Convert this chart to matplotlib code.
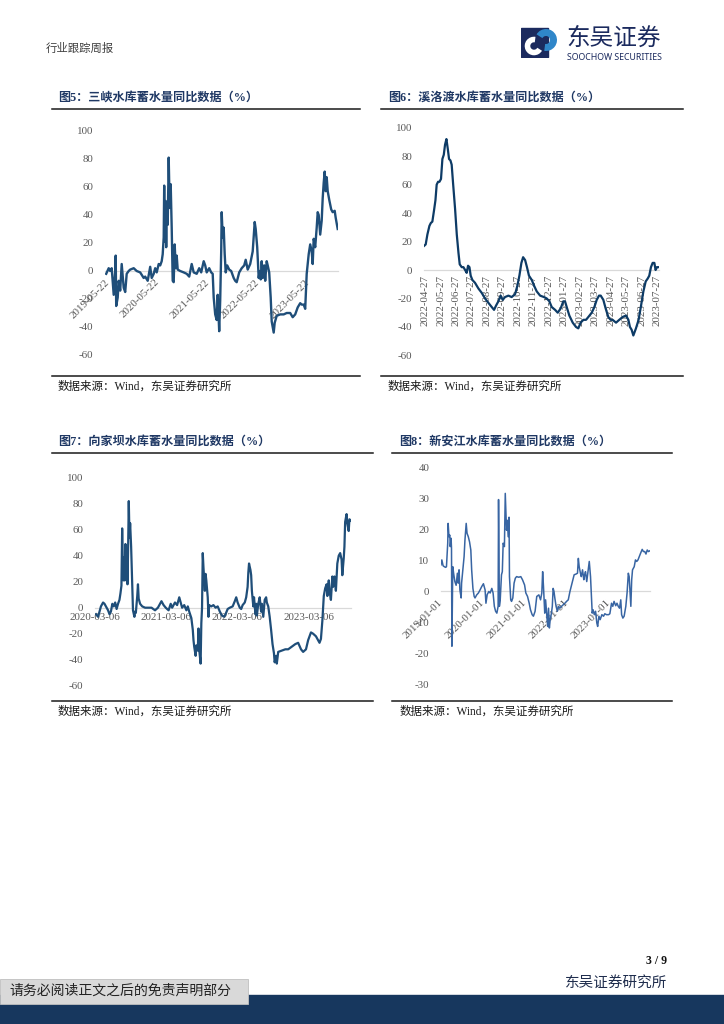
import matplotlib
matplotlib.use('Agg')
import matplotlib.pyplot as plt
import pandas as pd
from matplotlib.lines import Line2D
from matplotlib.patches import Rectangle, Arc

# 页面尺寸 (像素)
W, H = 724, 1024
plt.rcParams['font.family'] = ['Liberation Serif', 'Noto Sans CJK SC', 'DejaVu Sans']
plt.rcParams['axes.unicode_minus'] = False

# ---------------- 数据 ----------------
# 图5 三峡 (年份小数, %)
t5 = [2019.35, 2019.40, 2019.43, 2019.46, 2019.50, 2019.53, 2019.54, 2019.55, 2019.58, 2019.60,
      2019.63, 2019.66, 2019.70, 2019.73, 2019.76, 2019.80, 2019.83, 2019.90, 2019.96, 2020.03,
      2020.10, 2020.13, 2020.18, 2020.23, 2020.26, 2020.30, 2020.33, 2020.36, 2020.40, 2020.43,
      2020.46, 2020.48, 2020.50, 2020.51, 2020.52, 2020.54, 2020.55, 2020.56, 2020.58, 2020.60,
      2020.62, 2020.64, 2020.66, 2020.68, 2020.70, 2020.72, 2020.74, 2020.76, 2020.78, 2020.83,
      2020.90, 2020.96, 2021.01, 2021.06, 2021.10, 2021.16, 2021.21, 2021.25, 2021.30, 2021.33,
      2021.36, 2021.41, 2021.45, 2021.48, 2021.50, 2021.53, 2021.56, 2021.58, 2021.61, 2021.63,
      2021.65, 2021.66, 2021.68, 2021.70, 2021.72, 2021.74, 2021.77, 2021.81, 2021.85, 2021.90,
      2021.93, 2021.96, 2022.01, 2022.06, 2022.11, 2022.14, 2022.18, 2022.23, 2022.28, 2022.32,
      2022.34, 2022.37, 2022.40, 2022.42, 2022.44, 2022.46, 2022.48, 2022.51, 2022.53, 2022.56,
      2022.58, 2022.61, 2022.64, 2022.66, 2022.70, 2022.72, 2022.76, 2022.83, 2022.90, 2022.96,
      2023.03, 2023.08, 2023.13, 2023.18, 2023.23, 2023.26, 2023.30, 2023.33, 2023.36, 2023.40,
      2023.43, 2023.46, 2023.48, 2023.50, 2023.53, 2023.56, 2023.58, 2023.60, 2023.63, 2023.66,
      2023.68, 2023.70, 2023.72, 2023.74, 2023.76, 2023.78, 2023.81, 2023.85, 2023.88, 2023.92,
      2023.94, 2023.98]
v5 = [-2, 2, 0, 2, -17, 0, 11, -25, -19, -7,
      -14, 5, -12, -15, -2, 0, 1, 2, 0, -1,
      -5, -4, -7, 3, -5, -2, 2, -1, 5, 4,
      7, 12, 24, 61, 21, 50, 17, 49, 33, 81,
      45, 62, 31, -7, -8, 19, 2, 11, 1, 0,
      -1, -2, -4, 5, -1, -2, 2, -1, 7, 4,
      -1, 2, -1, -2, -19, -31, -35, -17, -43, -21,
      14, 42, 24, 31, 12, -1, 4, 1, 0, -5,
      -7, -8, -1, 2, 4, 8, 1, 5, 14, 35,
      30, 17, -5, 0, -6, 7, -5, 4, -7, 7,
      4, -1, -19, -36, -44, -37, -32, -31, -31, -30,
      -30, -33, -31, -26, -23, -24, -24, -27, -2, 12,
      19, 14, 5, 23, 17, 31, 42, 40, 26, 36,
      52, 63, 71, 57, 67, 57, 51, 44, 42, 43,
      38, 30]
ticks5 = ['2019-05-22', '2020-05-22', '2021-05-22', '2022-05-22', '2023-05-22']

# 图6 溪洛渡 (自2022-04-27起的月数, %)
m6 = [-0.06, 0.04, 0.15, 0.28, 0.37, 0.47, 0.58, 0.67, 0.75, 0.84,
      0.93, 1.03, 1.12, 1.21, 1.29, 1.38, 1.47, 1.55, 1.64, 1.72,
      1.81, 1.94, 2.05, 2.16, 2.24, 2.37, 2.48, 2.59, 2.69, 2.78,
      2.87, 2.95, 3.06, 3.23, 3.45, 3.66, 3.88, 4.09, 4.31, 4.46,
      4.59, 4.74, 4.89, 5.02, 5.17, 5.39, 5.60, 5.82, 5.97, 6.10,
      6.23, 6.34, 6.47, 6.59, 6.72, 6.90, 7.05, 7.22, 7.44, 7.69,
      7.87, 8.04, 8.19, 8.41, 8.58, 8.77, 8.94, 9.05, 9.16, 9.33,
      9.55, 9.76, 9.91, 10.06, 10.24, 10.41, 10.56, 10.78, 10.95, 11.10,
      11.25, 11.36, 11.53, 11.68, 11.85, 12.00, 12.13, 12.35, 12.56, 12.78,
      13.00, 13.15, 13.25, 13.36, 13.47, 13.64, 13.81, 13.97, 14.12, 14.27,
      14.40, 14.50, 14.61, 14.72, 14.83, 14.91, 15.00, 15.09]
v6 = [17, 18, 25, 31, 33, 34, 42, 49, 60, 62,
      62, 64, 78, 81, 88, 92, 85, 78, 77, 74,
      61, 43, 25, 12, 4, 2, 2, 0, -2, 3,
      2, -4, -7, -9, -13, -16, -20, -23, -26, -28,
      -25, -22, -18, -21, -19, -18, -19, -17, -11, -4,
      5, 9, 7, 2, -4, -7, -11, -15, -18, -19,
      -20, -22, -26, -28, -30, -27, -22, -22, -26, -32,
      -37, -40, -41, -37, -35, -35, -33, -30, -26, -21,
      -18, -18, -21, -27, -33, -35, -35, -37, -35, -33,
      -32, -35, -40, -42, -46, -41, -35, -25, -15, -8,
      -6, -4, 2, 5, 5, 0, 2, 2]
ticks6 = ['2022-04-27', '2022-05-27', '2022-06-27', '2022-07-27', '2022-08-27', '2022-09-27',
          '2022-10-27', '2022-11-27', '2022-12-27', '2023-01-27', '2023-02-27', '2023-03-27',
          '2023-04-27', '2023-05-27', '2023-06-27', '2023-07-27']

# 图7 向家坝
t7 = [2020.19, 2020.22, 2020.24, 2020.26, 2020.29, 2020.31, 2020.33, 2020.36, 2020.38, 2020.40,
      2020.42, 2020.44, 2020.46, 2020.48, 2020.50, 2020.52, 2020.534, 2020.548, 2020.558, 2020.567,
      2020.576, 2020.586, 2020.595, 2020.604, 2020.614, 2020.623, 2020.633, 2020.642, 2020.651, 2020.661,
      2020.670, 2020.684, 2020.698, 2020.71, 2020.73, 2020.74, 2020.75, 2020.77, 2020.78, 2020.79,
      2020.81, 2020.84, 2020.88, 2020.93, 2020.97, 2021.02, 2021.06, 2021.09, 2021.11, 2021.14,
      2021.17, 2021.21, 2021.24, 2021.26, 2021.30, 2021.33, 2021.36, 2021.38, 2021.40, 2021.43,
      2021.46, 2021.48, 2021.50, 2021.53, 2021.55, 2021.56, 2021.57, 2021.59, 2021.60, 2021.62,
      2021.63, 2021.64, 2021.66, 2021.67, 2021.68, 2021.69, 2021.70, 2021.72, 2021.73, 2021.74,
      2021.76, 2021.77, 2021.78, 2021.81, 2021.84, 2021.87, 2021.90, 2021.93, 2021.96, 2021.99,
      2022.01, 2022.04, 2022.07, 2022.11, 2022.14, 2022.16, 2022.18, 2022.21, 2022.23, 2022.25,
      2022.28, 2022.30, 2022.32, 2022.33, 2022.34, 2022.36, 2022.37, 2022.38, 2022.40, 2022.41,
      2022.43, 2022.44, 2022.45, 2022.47, 2022.49, 2022.51, 2022.52, 2022.54, 2022.56, 2022.58,
      2022.59, 2022.61, 2022.63, 2022.65, 2022.67, 2022.69, 2022.70, 2022.72, 2022.73, 2022.75,
      2022.80, 2022.85, 2022.89, 2022.94, 2022.99, 2023.03, 2023.07, 2023.10, 2023.14, 2023.17,
      2023.21, 2023.24, 2023.28, 2023.31, 2023.33, 2023.35, 2023.37, 2023.39, 2023.41, 2023.43,
      2023.44, 2023.46, 2023.47, 2023.49, 2023.51, 2023.52, 2023.54, 2023.56, 2023.58, 2023.60,
      2023.62, 2023.64, 2023.65, 2023.67, 2023.68, 2023.69, 2023.71, 2023.72, 2023.74, 2023.75,
      2023.77]
v7 = [-5, -7, -3, 1, 4, 3, 1, -2, -5, -3,
      3, 1, 4, -1, 3, 6, 11, 17, 61, 34,
      21, 39, 21, 49, 25, 44, 18, 47, 82, 54,
      65, 47, 21, -2, -7, -3, -4, 9, 18, 7,
      3, 1, 0, 0, 0, -2, 0, 3, 5, 2,
      0, -2, 3, 0, 4, 2, 8, 4, 0, 2,
      -2, 1, -3, -8, -17, -25, -30, -37, -29, -33,
      -16, -32, -43, -12, 0, 42, 31, 13, 26, 21,
      8, -7, 2, 1, 2, 0, 1, -3, -6, -7,
      -5, -1, 0, 1, 5, 8, 4, 0, -1, 2,
      4, 8, 16, 27, 34, 29, 25, 13, 1, 8,
      -5, 3, -6, 3, 8, -3, 3, -7, 6, 8,
      4, 1, -7, -17, -28, -35, -42, -37, -43, -34,
      -33, -32, -32, -30, -28, -27, -32, -34, -32, -25,
      -19, -20, -22, -25, -27, -24, -10, 9, 15, 18,
      9, 21, 13, 6, 24, 16, 24, 13, 34, 40,
      42, 37, 25, 38, 47, 66, 72, 65, 59, 68,
      67]
ticks7 = ['2020-03-06', '2021-03-06', '2022-03-06', '2023-03-06']

# 图8 新安江
t8 = [2019.00, 2019.02, 2019.05, 2019.08, 2019.11, 2019.13, 2019.16, 2019.17, 2019.19, 2019.21,
      2019.22, 2019.24, 2019.25, 2019.26, 2019.28, 2019.30, 2019.33, 2019.36, 2019.39, 2019.41,
      2019.43, 2019.45, 2019.48, 2019.49, 2019.52, 2019.55, 2019.57, 2019.60, 2019.62, 2019.65,
      2019.68, 2019.71, 2019.73, 2019.76, 2019.79, 2019.81, 2019.85, 2019.89, 2019.93, 2019.97,
      2020.01, 2020.05, 2020.07, 2020.10, 2020.14, 2020.17, 2020.21, 2020.24, 2020.27, 2020.30,
      2020.33, 2020.36, 2020.37, 2020.39, 2020.41, 2020.44, 2020.46, 2020.48, 2020.51, 2020.53,
      2020.56, 2020.58, 2020.60, 2020.62, 2020.63, 2020.66, 2020.68, 2020.71, 2020.74, 2020.77,
      2020.80, 2020.85, 2020.90, 2020.94, 2020.99, 2021.02, 2021.06, 2021.10, 2021.13, 2021.17,
      2021.20, 2021.24, 2021.28, 2021.33, 2021.37, 2021.40, 2021.42, 2021.44, 2021.47, 2021.49,
      2021.52, 2021.54, 2021.56, 2021.58, 2021.60, 2021.63, 2021.65, 2021.67, 2021.69, 2021.71,
      2021.74, 2021.77, 2021.80, 2021.83, 2021.87, 2021.91, 2021.95, 2021.99, 2022.03, 2022.07,
      2022.10, 2022.14, 2022.17, 2022.21, 2022.25, 2022.27, 2022.29, 2022.32, 2022.34, 2022.37,
      2022.40, 2022.42, 2022.44, 2022.47, 2022.50, 2022.53, 2022.56, 2022.58, 2022.60, 2022.62,
      2022.65, 2022.68, 2022.71, 2022.73, 2022.76, 2022.79, 2022.83, 2022.87, 2022.90, 2022.94,
      2022.99, 2023.02, 2023.06, 2023.09, 2023.12, 2023.16, 2023.19, 2023.22, 2023.25, 2023.28,
      2023.30, 2023.33, 2023.36, 2023.40, 2023.43, 2023.46, 2023.48, 2023.50, 2023.52, 2023.54,
      2023.56, 2023.60, 2023.63, 2023.66, 2023.69, 2023.72, 2023.75, 2023.79, 2023.82, 2023.85,
      2023.88, 2023.91, 2023.94, 2023.98]
v8 = [8.6, 10.2, 8.3, 8.0, 7.8, 8.0, 15.6, 22.0, 17.7, 18.2,
      14.5, 17.2, 14.0, -17.7, 8.0, 5.9, 3.2, 2.0, 5.9, 2.7,
      7.0, 0.5, -2.1, 2.7, 7.0, 11.3, 16.6, 22.0, 18.8, 17.7,
      16.0, 13.4, 7.0, 1.0, -1.6, -2.1, -1.1, -0.5, 0.5, 1.6,
      2.5, 0.5, -3.8, -1.0, 0.0, -0.5, 1.0, -0.5, -4.8, -6.4,
      -7.0, -4.8, 29.7, -4.8, -2.7, 5.4, 6.4, 15.6, 14.5, 31.7,
      19.8, 23.0, 17.7, 24.0, 4.8, -2.7, -3.2, -2.1, 2.7, 4.3,
      4.8, 4.6, 4.8, 3.8, 2.1, -0.5, -1.6, -3.8, -5.9, -7.5,
      -8.0, -6.4, -1.6, -1.1, -2.7, -0.5, 6.4, 1.6, -7.0, -2.7,
      -8.0, -11.3, -5.4, -11.8, -9.1, -7.0, -4.8, 1.0, 0.0, -2.1,
      -4.8, -6.4, -4.8, -5.4, -4.8, -4.3, -3.8, -3.2, -2.7, 0.0,
      1.6, 3.8, 5.4, 5.6, 5.9, 10.7, 8.0, 5.9, 4.8, 7.0,
      3.8, 5.4, 6.4, 3.2, 6.4, 9.7, 4.8, -1.0, -7.0, -5.9,
      -7.5, -6.4, -10.2, -11.3, -8.0, -9.1, -7.5, -8.0, -7.2, -7.5,
      -7.5, -7.2, -3.8, -4.8, -3.2, -4.6, -3.8, -4.8, -5.4, -2.7,
      -7.5, -8.6, -8.0, -4.8, -0.5, 5.9, 4.8, 0.0, -4.8, 3.8,
      7.0, 8.0, 10.2, 9.7, 10.2, 11.3, 12.3, 13.6, 12.9, 12.9,
      12.1, 13.4, 12.9, 13.2]
ticks8 = ['2019-01-01', '2020-01-01', '2021-01-01', '2022-01-01', '2023-01-01']

titles = ['图5：三峡水库蓄水量同比数据（%）', '图6：溪洛渡水库蓄水量同比数据（%）',
          '图7：向家坝水库蓄水量同比数据（%）', '图8：新安江水库蓄水量同比数据（%）']
source = '数据来源：Wind，东吴证券研究所'


def dec_year(s):
    ts = pd.Timestamp(s)
    return ts.year + (ts.dayofyear - 1) / 365.25


fig = plt.figure(figsize=(W / 100, H / 100), dpi=100)
fig.patch.set_facecolor('white')


def box(l, t, r, b):
    return fig.add_axes([l / W, 1 - b / H, (r - l) / W, (b - t) / H])


def hline(x0, x1, y, lw=1.1, color='#1a1a1a'):
    fig.add_artist(Line2D([x0 / W, x1 / W], [1 - y / H, 1 - y / H], lw=lw, color=color))


def txt(x, y, s, **kw):
    fig.text(x / W, 1 - y / H, s, **kw)


def style(ax, xlim, ylim, ystep):
    ax.set_xlim(*xlim)
    ax.set_ylim(*ylim)
    yt = list(range(ylim[0], ylim[1] + 1, ystep))
    ax.set_yticks(yt)
    ax.set_yticklabels([str(v) for v in yt])
    for s in ['top', 'right', 'left']:
        ax.spines[s].set_visible(False)
    ax.spines['bottom'].set_position(('data', 0))
    ax.spines['bottom'].set_color('#d9d9d9')
    ax.spines['bottom'].set_linewidth(0.9)
    ax.spines['bottom'].set_zorder(0)
    ax.tick_params(length=0, labelsize=7.9, labelcolor='#595959')
    ax.tick_params(axis='y', pad=8.5)
    ax.patch.set_alpha(0)


# 图5
ax5 = box(105, 131, 338, 355)
ax5.plot(t5, v5, color='#1f4e79', lw=1.7)
style(ax5, (2019.326, 2023.986), (-60, 100), 20)
ax5.set_xticks([dec_year(s) for s in ticks5])
ax5.set_xticklabels(ticks5, rotation=45, ha='right', va='center', rotation_mode='anchor')
ax5.tick_params(axis='x', pad=7)

# 图6
ax6 = box(424, 127.7, 659, 355.4)
ax6.plot(m6, v6, color='#0d3b66', lw=1.6)
style(ax6, (-0.07, 15.13), (-60, 100), 20)
ax6.set_xticks(range(len(ticks6)))
ax6.set_xticklabels(ticks6, rotation=90, ha='center', va='top')
ax6.tick_params(axis='x', pad=3.5)

# 图7
ax7 = box(95.1, 477.7, 350.7, 685.7)
ax7.plot(t7, v7, color='#1f4e79', lw=1.6)
style(ax7, (2020.178, 2023.768), (-60, 100), 20)
ax7.set_xticks([dec_year(s) for s in ticks7])
ax7.set_xticklabels(ticks7)
ax7.tick_params(axis='x', pad=4)

# 图8
ax8 = box(441, 467.7, 650, 684.3)
ax8.plot(t8, v8, color='#3865a3', lw=1.1)
style(ax8, (2019.0, 2023.976), (-30, 40), 10)
ax8.set_xticks([dec_year(s) for s in ticks8])
ax8.set_xticklabels(ticks8, rotation=45, ha='right', va='center', rotation_mode='anchor')
ax8.tick_params(axis='x', pad=7)

# 标题、分隔线、来源
title_kw = dict(fontsize=8.7, fontweight='bold', color='#1f3864', va='center')
src_kw = dict(fontsize=8.3, color='#1a1a1a', va='center')
txt(58, 98, titles[0], **title_kw)
txt(388, 98, titles[1], **title_kw)
txt(58, 442, titles[2], **title_kw)
txt(399, 442, titles[3], **title_kw)
hline(52, 360, 109)
hline(381, 683, 109)
hline(52, 360, 376)
hline(381, 683, 376)
hline(52, 373, 453)
hline(392, 672, 453)
hline(52, 373, 701)
hline(392, 672, 701)
txt(58, 387, source, **src_kw)
txt(388, 387, source, **src_kw)
txt(58, 712, source, **src_kw)
txt(400, 712, source, **src_kw)

# 页眉
txt(46, 48, '行业跟踪周报', fontsize=8.2, color='#404040', va='center')
lax = fig.add_axes([521 / W, 1 - 58 / H, 42 / W, 31 / H])
lax.set_xlim(0, 42)
lax.set_ylim(0, 31)
lax.axis('off')
lax.add_patch(Rectangle((0, 1), 27, 29, color='#1b2a5e'))
lax.add_patch(Arc((25, 18), 15, 15, theta1=-100, theta2=150, lw=5, color='#2f86c9'))
lax.add_patch(Arc((13, 12), 13, 13, theta1=80, theta2=330, lw=4, color='white'))
txt(566, 38, '东吴证券', fontsize=17, color='#1b2a5e', va='center',
    family=['Noto Sans CJK SC'])
txt(567, 57, 'SOOCHOW SECURITIES', fontsize=6.3, fontweight='bold', color='#1b2a5e',
    va='center', family=['Noto Sans'])

# 页脚
txt(667, 961, '3 / 9', fontsize=8.5, fontweight='bold', color='#111111', ha='right', va='center')
txt(616, 983, '东吴证券研究所', fontsize=10.5, color='#1f2d4d', ha='center', va='center')
fig.add_artist(Rectangle((0, 0), 1, 29 / H, transform=fig.transFigure, color='#17375e'))
fig.add_artist(Rectangle((0, 1 - 1004 / H), 248 / W, 25 / H, transform=fig.transFigure,
                         facecolor='#d9d9d9', edgecolor='#bfbfbf', lw=0.6))
txt(9, 991, '请务必阅读正文之后的免责声明部分', fontsize=10, color='#222222', va='center')

fig.savefig('out.png', dpi=100, facecolor='white')
